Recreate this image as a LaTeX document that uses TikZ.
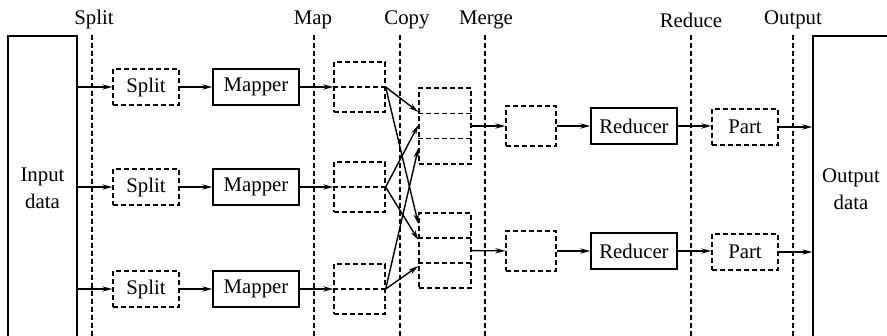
\documentclass[tikz,border=0pt]{standalone}
\usepackage{fontspec}
\setmainfont{Liberation Serif}
\usetikzlibrary{arrows.meta}

\begin{document}
\begin{tikzpicture}[>={Stealth[length=5pt,width=2.6pt]}, x=0.5pt, y=-0.5pt,
		every node/.style={font=\fontsize{10.4}{13.5}\selectfont},
		box/.style={draw, line width=0.7pt, inner sep=0pt, minimum height=18pt},
		dbox/.style={draw, line width=0.65pt, dash pattern=on 2.5pt off 1.5pt, inner sep=0pt},
		guide/.style={line width=0.65pt, dash pattern=on 2.5pt off 1.5pt},
		flow/.style={->, line width=0.7pt}]
	\useasboundingbox (0,0) rectangle (887,336);

	% stage guides and their labels
	\node[anchor=base] (lsplit) at (94,25) {Split};
	\node[anchor=base] (lmap) at (313,25) {Map};
	\node[anchor=base] (lcopy) at (407,25) {Copy};
	\node[anchor=base] (lmerge) at (486,25) {Merge};
	\node[anchor=base] (lreduce) at (691,28) {Reduce};
	\node[anchor=base] (loutput) at (793,25) {Output};
	\draw[guide] (92,35) -- (92,340);
	\draw[guide] (314,35) -- (314,340);
	\draw[guide] (400,35) -- (400,340);
	\draw[guide] (485,35) -- (485,340);
	\draw[guide] (691,35) -- (691,340);
	\draw[guide] (793,35) -- (793,340);

	% input and output
	\node[box, minimum width=34.5pt, minimum height=152pt, align=center] (in) at (42.5,188) {Input\\data};
	\node[box, minimum width=38pt, minimum height=153pt, align=center] (out) at (851,189) {Output\\data};

	% split and map
	\node[dbox, minimum width=33pt, minimum height=18pt] (split1) at (146,87) {Split};
	\node[dbox, minimum width=33pt, minimum height=18pt] (split2) at (146,187) {Split};
	\node[dbox, minimum width=33pt, minimum height=18pt] (split3) at (146,289) {Split};
	\node[box, minimum width=43pt] (mapper1) at (256,87) {Mapper};
	\node[box, minimum width=43pt] (mapper2) at (256,187) {Mapper};
	\node[box, minimum width=43pt] (mapper3) at (256,289) {Mapper};
	\node[dbox, minimum width=25.5pt, minimum height=25pt] (map1) at (359.5,87) {};
	\node[dbox, minimum width=25.5pt, minimum height=25pt] (map2) at (359.5,187) {};
	\node[dbox, minimum width=25.5pt, minimum height=25pt] (map3) at (359.5,289) {};
	\draw[guide] (map1.west) -- (map1.east);
	\draw[guide] (map2.west) -- (map2.east);
	\draw[guide] (map3.west) -- (map3.east);

	% merge
	\node[dbox, minimum width=26pt, minimum height=38pt] (group1) at (445,126) {};
	\node[dbox, minimum width=26pt, minimum height=37.5pt] (group2) at (445,250.5) {};
	\draw[guide] ([yshift=6.33pt]group1.west) -- ([yshift=6.33pt]group1.east);
	\draw[guide] ([yshift=-6.33pt]group1.west) -- ([yshift=-6.33pt]group1.east);
	\draw[guide] ([yshift=6.25pt]group2.west) -- ([yshift=6.25pt]group2.east);
	\draw[guide] ([yshift=-6.25pt]group2.west) -- ([yshift=-6.25pt]group2.east);
	\node[dbox, minimum width=25pt, minimum height=20pt] (sorted1) at (531,126) {};
	\node[dbox, minimum width=25pt, minimum height=20pt] (sorted2) at (531,251) {};

	% reduce and output
	\node[box, minimum width=43pt] (reducer1) at (634,126) {Reducer};
	\node[box, minimum width=43pt] (reducer2) at (634,251) {Reducer};
	\node[dbox, minimum width=33pt, minimum height=18pt] (part1) at (745,127) {Part};
	\node[dbox, minimum width=33pt, minimum height=18pt] (part2) at (745,252) {Part};

	% connectors
	\draw[flow] (in.east |- split1.west) -- (split1);
	\draw[flow] (in.east |- split2.west) -- (split2);
	\draw[flow] (in.east |- split3.west) -- (split3);
	\draw[flow] (split1) -- (mapper1);
	\draw[flow] (split2) -- (mapper2);
	\draw[flow] (split3) -- (mapper3);
	\draw[flow] (mapper1) -- (map1);
	\draw[flow] (mapper2) -- (map2);
	\draw[flow] (mapper3) -- (map3);

	\draw[flow] (map1.east) -- ([yshift=7pt]group1.west);
	\draw[flow] (map1.east) -- ([yshift=13.25pt]group2.west);
	\draw[flow] (map2.east) -- ([yshift=0.5pt]group1.west);
	\draw[flow] (map2.east) -- ([yshift=5.25pt]group2.west);
	\draw[flow] (map3.east) -- ([yshift=-11pt]group1.west);
	\draw[flow] (map3.east) -- ([yshift=-7.75pt]group2.west);

	\draw[flow] (group1) -- (sorted1);
	\draw[flow] (group2) -- (sorted2);
	\draw[flow] (sorted1) -- (reducer1);
	\draw[flow] (sorted2) -- (reducer2);
	\draw[flow] (reducer1) -- (part1.west |- reducer1);
	\draw[flow] (reducer2) -- (part2.west |- reducer2);
	\draw[flow] (part1.east) -- (out.west |- part1.east);
	\draw[flow] (part2.east) -- (out.west |- part2.east);
\end{tikzpicture}
\end{document}
